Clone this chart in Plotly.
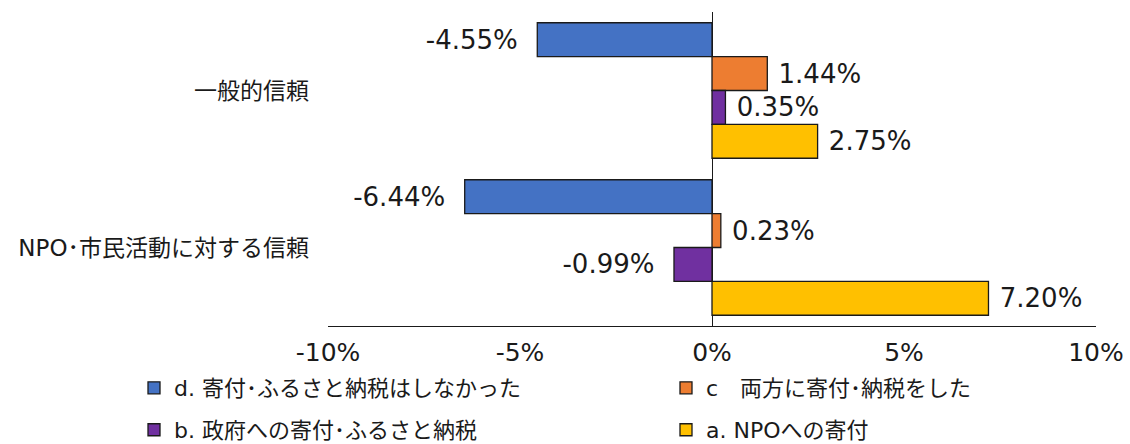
import plotly.graph_objects as go

categories = ["一般的信頼", "NPO･市民活動に対する信頼"]
series_names = ["d. 寄付･ふるさと納税はしなかった", "c　両方に寄付･納税をした",
                "b. 政府への寄付･ふるさと納税", "a. NPOへの寄付"]
series_values = [
    [-4.55, -6.44],
    [1.44, 0.23],
    [0.35, -0.99],
    [2.75, 7.20],
]
series_colors = ["#4472C4", "#ED7D31", "#7030A0", "#FFC000"]
tick_vals = [-10, -5, 0, 5, 10]
tick_text = ["-10%", "-5%", "0%", "5%", "10%"]

FONT = "DejaVu Sans, Noto Sans CJK JP"
INK = "#1a1a1a"
NBSP = "\u00a0"

legend_ids = ["legend", "legend2", "legend3", "legend4"]


def label(v):
    s = f"{v:.2f}%"
    return s + NBSP * 2 if v < 0 else NBSP + s


fig = go.Figure()
for name, vals, col, lg in zip(series_names, series_values, series_colors, legend_ids):
    fig.add_trace(go.Bar(
        y=categories, x=vals, name=name, orientation="h",
        marker=dict(color=col, line=dict(color=INK, width=1.3)),
        text=[label(v) for v in vals], textposition="outside",
        textfont=dict(family=FONT, size=26, color=INK),
        cliponaxis=False, legend=lg,
    ))

leg_common = dict(orientation="h", xanchor="left", yanchor="middle",
                  bgcolor="rgba(0,0,0,0)", borderwidth=0,
                  font=dict(family=FONT, size=22, color=INK))

fig.update_layout(
    width=1130, height=444,
    margin=dict(l=328, r=34, t=12, b=118, autoexpand=False),
    paper_bgcolor="white", plot_bgcolor="white",
    barmode="group", bargap=0.137, bargroupgap=0,
    font=dict(family=FONT, size=22, color=INK),
    showlegend=True,
    legend=dict(x=-0.2526, y=-0.1975, **leg_common),
    legend2=dict(x=0.4401, y=-0.1975, **leg_common),
    legend3=dict(x=-0.2526, y=-0.331, **leg_common),
    legend4=dict(x=0.4401, y=-0.331, **leg_common),
    xaxis=dict(range=[-10, 10], tickvals=tick_vals, ticktext=tick_text,
               showgrid=False, zeroline=True, zerolinecolor=INK, zerolinewidth=1.3,
               showline=True, linecolor=INK, linewidth=1.3,
               ticks="", ticklabelstandoff=4,
               tickfont=dict(family=FONT, size=25, color=INK)),
    yaxis=dict(autorange="reversed", showgrid=False, showline=False, ticks="",
               ticklabelstandoff=18,
               tickfont=dict(family=FONT, size=23, color=INK)),
)

fig.write_html("out.html")
